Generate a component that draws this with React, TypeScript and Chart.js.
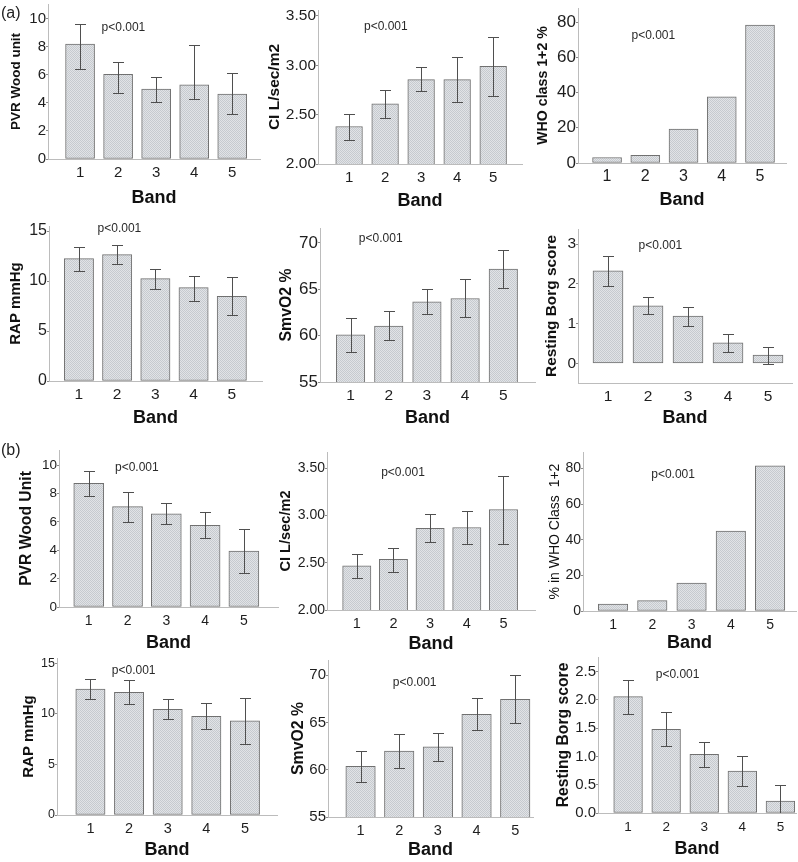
import React, { useEffect, useRef } from "react";
import { Chart, registerables } from "chart.js";
Chart.register(...registerables);

const BANDS = [1, 2, 3, 4, 5];
const BAND_TITLE = "Band";
const P_TEXT = "p<0.001";

// ---- Panel (a)
const A_PVR = [8.21, 6.04, 5.0, 5.29, 4.64];
const A_PVR_HI = [9.64, 6.93, 5.83, 8.16, 6.16];
const A_PVR_LO = [6.45, 4.71, 4.04, 4.29, 3.21];

const A_CI = [2.38, 2.61, 2.855, 2.855, 2.99];
const A_CI_HI = [2.51, 2.745, 2.985, 3.08, 3.29];
const A_CI_LO = [2.24, 2.47, 2.735, 2.63, 2.69];

const A_WHO = [3.1, 4.4, 19.2, 37.6, 78.3];

const A_RAP = [12.24, 12.64, 10.24, 9.34, 8.47];
const A_RAP_HI = [13.4, 13.64, 11.24, 10.54, 10.37];
const A_RAP_LO = [11.04, 11.7, 9.2, 8.04, 6.64];

const A_SVO2 = [60.08, 61.04, 63.65, 64.0, 67.16];
const A_SVO2_HI = [61.93, 62.62, 65.04, 66.05, 69.23];
const A_SVO2_LO = [58.2, 59.5, 62.3, 61.97, 65.09];

const A_BORG = [2.33, 1.45, 1.19, 0.52, 0.21];
const A_BORG_HI = [2.71, 1.68, 1.42, 0.74, 0.42];
const A_BORG_LO = [1.95, 1.24, 0.95, 0.29, -0.01];

// ---- Panel (b)
const B_PVR = [8.73, 7.08, 6.58, 5.77, 3.95];
const B_PVR_HI = [9.62, 8.14, 7.34, 6.73, 5.48];
const B_PVR_LO = [7.83, 6.02, 5.86, 4.85, 2.42];

const B_CI = [2.467, 2.535, 2.862, 2.872, 3.062];
const B_CI_HI = [2.587, 2.66, 3.013, 3.048, 3.417];
const B_CI_LO = [2.34, 2.4, 2.717, 2.7, 2.7];

const B_WHO = [3.9, 5.8, 15.7, 44.9, 81.6];

const B_RAP = [12.42, 12.12, 10.44, 9.75, 9.29];
const B_RAP_HI = [13.41, 13.31, 11.43, 11.04, 11.53];
const B_RAP_LO = [11.43, 10.94, 9.46, 8.5, 7.02];

const B_SVO2 = [60.37, 61.96, 62.42, 65.85, 67.43];
const B_SVO2_HI = [61.96, 63.73, 63.9, 67.54, 69.98];
const B_SVO2_LO = [58.71, 60.13, 60.93, 64.18, 64.96];

const B_BORG = [2.06, 1.48, 1.04, 0.74, 0.21];
const B_BORG_HI = [2.35, 1.78, 1.26, 1.0, 0.49];
const B_BORG_LO = [1.76, 1.18, 0.81, 0.48, -0.07];

// ---- Tick labels
const TICKS_PVR = [0, 2, 4, 6, 8, 10];
const TICKS_CI = [2.0, 2.5, 3.0, 3.5];
const TICKS_WHO = [0, 20, 40, 60, 80];
const TICKS_RAP = [0, 5, 10, 15];
const TICKS_SVO2 = [55, 60, 65, 70];
const TICKS_BORG_A = [0, 1, 2, 3];
const TICKS_BORG_B = [0, 0.5, 1.0, 1.5, 2.0, 2.5];

const W = 798;
const H = 862;
const FONT = '"Liberation Sans", Arial, Helvetica, sans-serif';
const AXIS_COLOR = "#bcbcbc";

type Spec = {
  v: number[]; hi?: number[]; lo?: number[]; ticks: number[]; dec: number;
  yTitle: string; tSize: number; bold: boolean;
  yMin: number; yMax: number; xMin: number; xMax: number;
  area: number[]; titleX: number; bandY: number; barW: number;
  yTick: number; xTick: number; p: number[];
};

const PANELS: Spec[] = [
  { v: A_PVR, hi: A_PVR_HI, lo: A_PVR_LO, ticks: TICKS_PVR, dec: 0, yTitle: "PVR Wood unit", tSize: 13.5, bold: true,
    yMin: 0, yMax: 11.07, xMin: 0.157, xMax: 5.73, area: [48, 4, 260, 159], titleX: 16, bandY: 198.5, barW: 29, yTick: 15, xTick: 15, p: [2.14, 9.36] },
  { v: A_CI, hi: A_CI_HI, lo: A_CI_LO, ticks: TICKS_CI, dec: 2, yTitle: "CI L/sec/m2", tSize: 15.5, bold: true,
    yMin: 2, yMax: 3.56, xMin: 0.137, xMax: 5.8, area: [318, 10, 522, 164], titleX: 274.3, bandY: 201, barW: 26.7, yTick: 15.5, xTick: 15, p: [2.02, 3.39] },
  { v: A_WHO, ticks: TICKS_WHO, dec: 0, yTitle: "WHO class 1+2 %", tSize: 14.2, bold: true,
    yMin: 0, yMax: 88, xMin: 0.24, xMax: 5.68, area: [578, 8, 786, 163], titleX: 543.3, bandY: 200, barW: 29, yTick: 17, xTick: 16, p: [2.21, 72.2] },
  { v: A_RAP, hi: A_RAP_HI, lo: A_RAP_LO, ticks: TICKS_RAP, dec: 0, yTitle: "RAP mmHg", tSize: 15, bold: true,
    yMin: 0, yMax: 15.5, xMin: 0.217, xMax: 5.79, area: [49, 226, 262, 381], titleX: 15.7, bandY: 418, barW: 29.3, yTick: 16, xTick: 15.5, p: [2.06, 15.24] },
  { v: A_SVO2, hi: A_SVO2_HI, lo: A_SVO2_LO, ticks: TICKS_SVO2, dec: 0, yTitle: "SmvO2 %", tSize: 15.8, bold: true,
    yMin: 55, yMax: 71.6, xMin: 0.2, xMax: 5.83, area: [320, 228, 535, 382], titleX: 286.7, bandY: 418, barW: 28.5, yTick: 17, xTick: 15.5, p: [1.79, 70.5] },
  { v: A_BORG, hi: A_BORG_HI, lo: A_BORG_LO, ticks: TICKS_BORG_A, dec: 0, yTitle: "Resting Borg score", tSize: 15.4, bold: true,
    yMin: -0.49, yMax: 3.38, xMin: 0.25, xMax: 5.6, area: [578, 229, 792, 383], titleX: 551.7, bandY: 418, barW: 30, yTick: 15.5, xTick: 15.5, p: [2.31, 2.97] },
  { v: B_PVR, hi: B_PVR_HI, lo: B_PVR_LO, ticks: TICKS_PVR, dec: 0, yTitle: "PVR Wood Unit", tSize: 15.7, bold: true,
    yMin: 0, yMax: 11.08, xMin: 0.233, xMax: 5.88, area: [59, 450, 278, 607], titleX: 26.7, bandY: 643, barW: 30, yTick: 13.5, xTick: 14, p: [2.24, 9.83] },
  { v: B_CI, hi: B_CI_HI, lo: B_CI_LO, ticks: TICKS_CI, dec: 2, yTitle: "CI L/sec/m2", tSize: 14.6, bold: true,
    yMin: 2, yMax: 3.67, xMin: 0.188, xMax: 5.86, area: [327, 452, 535, 610], titleX: 285.7, bandY: 644, barW: 28.3, yTick: 14, xTick: 14.5, p: [2.26, 3.45] },
  { v: B_WHO, ticks: TICKS_WHO, dec: 0, yTitle: "% in WHO Class  1+2", tSize: 14, bold: false,
    yMin: 0, yMax: 89.3, xMin: 0.235, xMax: 5.66, area: [583, 452, 796, 611], titleX: 555, bandY: 643, barW: 29.5, yTick: 14, xTick: 14, p: [2.53, 76.8] },
  { v: B_RAP, hi: B_RAP_HI, lo: B_RAP_LO, ticks: TICKS_RAP, dec: 0, yTitle: "RAP mmHg", tSize: 15, bold: true,
    yMin: 0, yMax: 15.5, xMin: 0.135, xMax: 5.83, area: [57, 658, 277, 815], titleX: 29.3, bandY: 850, barW: 29.3, yTick: 12.5, xTick: 14.5, p: [2.12, 14.26] },
  { v: B_SVO2, hi: B_SVO2_HI, lo: B_SVO2_LO, ticks: TICKS_SVO2, dec: 0, yTitle: "SmvO2 %", tSize: 15.8, bold: true,
    yMin: 55, yMax: 71.6, xMin: 0.158, xMax: 5.46, area: [328, 660, 533, 817], titleX: 299, bandY: 850, barW: 29.5, yTick: 15, xTick: 14.5, p: [2.4, 69.24] },
  { v: B_BORG, hi: B_BORG_HI, lo: B_BORG_LO, ticks: TICKS_BORG_B, dec: 1, yTitle: "Resting Borg score", tSize: 15.7, bold: true,
    yMin: 0, yMax: 2.76, xMin: 0.21, xMax: 5.41, area: [598, 657, 796, 813], titleX: 563.3, bandY: 849, barW: 28.7, yTick: 15, xTick: 13.5, p: [2.3, 2.44] },
];

function makePattern(): CanvasPattern | string {
  const c = document.createElement("canvas");
  c.width = 2;
  c.height = 2;
  const g = c.getContext("2d");
  if (!g) return "#d3d6da";
  g.fillStyle = "#e1e3e6";
  g.fillRect(0, 0, 2, 2);
  g.fillStyle = "#c6cacf";
  g.fillRect(0, 0, 1, 1);
  g.fillRect(1, 1, 1, 1);
  return g.createPattern(c, "repeat") || "#d3d6da";
}

function buildConfig(spec: Spec): any {
  const [L, T, R, B] = spec.area;
  const titleLH = spec.tSize * 1.2;
  const padL = spec.titleX - titleLH / 2;
  const bandSize = 18;
  const padB = H - (spec.bandY + (bandSize * 1.2) / 2);
  const xAxisH = H - padB - B;
  const yAxisW = L - padL;

  const errorPlugin = {
    id: "errorBars",
    afterDatasetsDraw(chart: any) {
      if (!spec.hi || !spec.lo) return;
      const meta = chart.getDatasetMeta(0);
      const ys = chart.scales.y;
      const ctx = chart.ctx;
      const a = chart.chartArea;
      ctx.save();
      ctx.beginPath();
      ctx.rect(a.left, a.top, a.right - a.left, a.bottom - a.top);
      ctx.clip();
      ctx.strokeStyle = "#4f4f4f";
      ctx.lineWidth = 1;
      const cap = 11;
      meta.data.forEach((bar: any, i: number) => {
        const x = Math.round(bar.x) + 0.5;
        const yh = Math.round(ys.getPixelForValue(spec.hi![i])) + 0.5;
        const yl = Math.round(ys.getPixelForValue(spec.lo![i])) + 0.5;
        ctx.beginPath();
        ctx.moveTo(x, yh);
        ctx.lineTo(x, yl);
        ctx.moveTo(x - cap / 2, yh);
        ctx.lineTo(x + cap / 2, yh);
        ctx.moveTo(x - cap / 2, yl);
        ctx.lineTo(x + cap / 2, yl);
        ctx.stroke();
      });
      ctx.restore();
    },
  };

  const notePlugin = {
    id: "pnote",
    afterDraw(chart: any) {
      const ctx = chart.ctx;
      const px = chart.scales.x.getPixelForValue(spec.p[0]);
      const py = chart.scales.y.getPixelForValue(spec.p[1]);
      ctx.save();
      ctx.font = `12px ${FONT}`;
      ctx.fillStyle = "#2a2a2a";
      ctx.textAlign = "center";
      ctx.textBaseline = "middle";
      ctx.fillText(P_TEXT, px, py);
      ctx.restore();
    },
  };

  const zeroPad = (s: any) => {
    s.paddingLeft = 0;
    s.paddingRight = 0;
    s.paddingTop = 0;
    s.paddingBottom = 0;
  };

  return {
    type: "bar",
    data: {
      datasets: [
        {
          data: BANDS.map((b, i) => ({ x: b, y: spec.v[i] })),
          backgroundColor: makePattern(),
          borderColor: "#707070",
          borderWidth: 1,
          borderSkipped: false,
          barThickness: spec.barW,
        },
      ],
    },
    options: {
      responsive: false,
      animation: false,
      devicePixelRatio: 1,
      layout: { padding: { left: padL, top: T, right: W - R, bottom: padB } },
      plugins: { legend: { display: false }, tooltip: { enabled: false } },
      scales: {
        x: {
          type: "linear",
          position: "bottom",
          offset: false,
          min: spec.xMin,
          max: spec.xMax,
          afterBuildTicks: (s: any) => {
            s.ticks = BANDS.map((v) => ({ value: v }));
          },
          afterFit: (s: any) => {
            s.height = xAxisH;
            zeroPad(s);
          },
          grid: { display: false, drawTicks: false, offset: false },
          border: { display: true, color: AXIS_COLOR, width: 1 },
          ticks: {
            font: { family: FONT, size: spec.xTick },
            color: "#1e1e1e",
            padding: 14 - 0.6 * spec.xTick,
            maxRotation: 0,
            autoSkip: false,
            callback: (v: any) => String(v),
          },
          title: {
            display: true,
            text: BAND_TITLE,
            color: "#111",
            padding: 0,
            font: { family: FONT, size: bandSize, weight: "bold", lineHeight: 1.2 },
          },
        },
        y: {
          type: "linear",
          position: "left",
          min: spec.yMin,
          max: spec.yMax,
          afterBuildTicks: (s: any) => {
            s.ticks = spec.ticks.map((v) => ({ value: v }));
          },
          afterFit: (s: any) => {
            s.width = yAxisW;
            zeroPad(s);
          },
          grid: { display: true, drawOnChartArea: false, drawTicks: true, tickLength: 2, color: "#8a8a8a" },
          border: { display: true, color: AXIS_COLOR, width: 1 },
          ticks: {
            font: { family: FONT, size: spec.yTick },
            color: "#1e1e1e",
            padding: 0,
            autoSkip: false,
            callback: (v: any) => Number(v).toFixed(spec.dec),
          },
          title: {
            display: true,
            text: spec.yTitle,
            color: "#111",
            padding: 0,
            font: { family: FONT, size: spec.tSize, weight: spec.bold ? "bold" : "normal", lineHeight: 1.2 },
          },
        },
      },
    },
    plugins: [errorPlugin, notePlugin],
  };
}

function Panel({ spec }: { spec: Spec }) {
  const ref = useRef<HTMLCanvasElement>(null);
  useEffect(() => {
    if (!ref.current) return;
    const chart = new Chart(ref.current, buildConfig(spec));
    return () => chart.destroy();
  }, [spec]);
  return (
    <canvas
      ref={ref}
      width={W}
      height={H}
      style={{ position: "absolute", left: 0, top: 0, width: W, height: H }}
    />
  );
}

const labelStyle: React.CSSProperties = {
  position: "absolute",
  left: 1,
  fontFamily: FONT,
  fontSize: 16,
  lineHeight: "16px",
  color: "#222",
};

export default function App() {
  return (
    <div style={{ position: "absolute", left: 0, top: 0, width: W, height: H, background: "#fff", overflow: "hidden" }}>
      {PANELS.map((s, i) => (
        <Panel key={i} spec={s} />
      ))}
      <div style={{ ...labelStyle, top: 5 }}>(a)</div>
      <div style={{ ...labelStyle, top: 442 }}>(b)</div>
    </div>
  );
}
